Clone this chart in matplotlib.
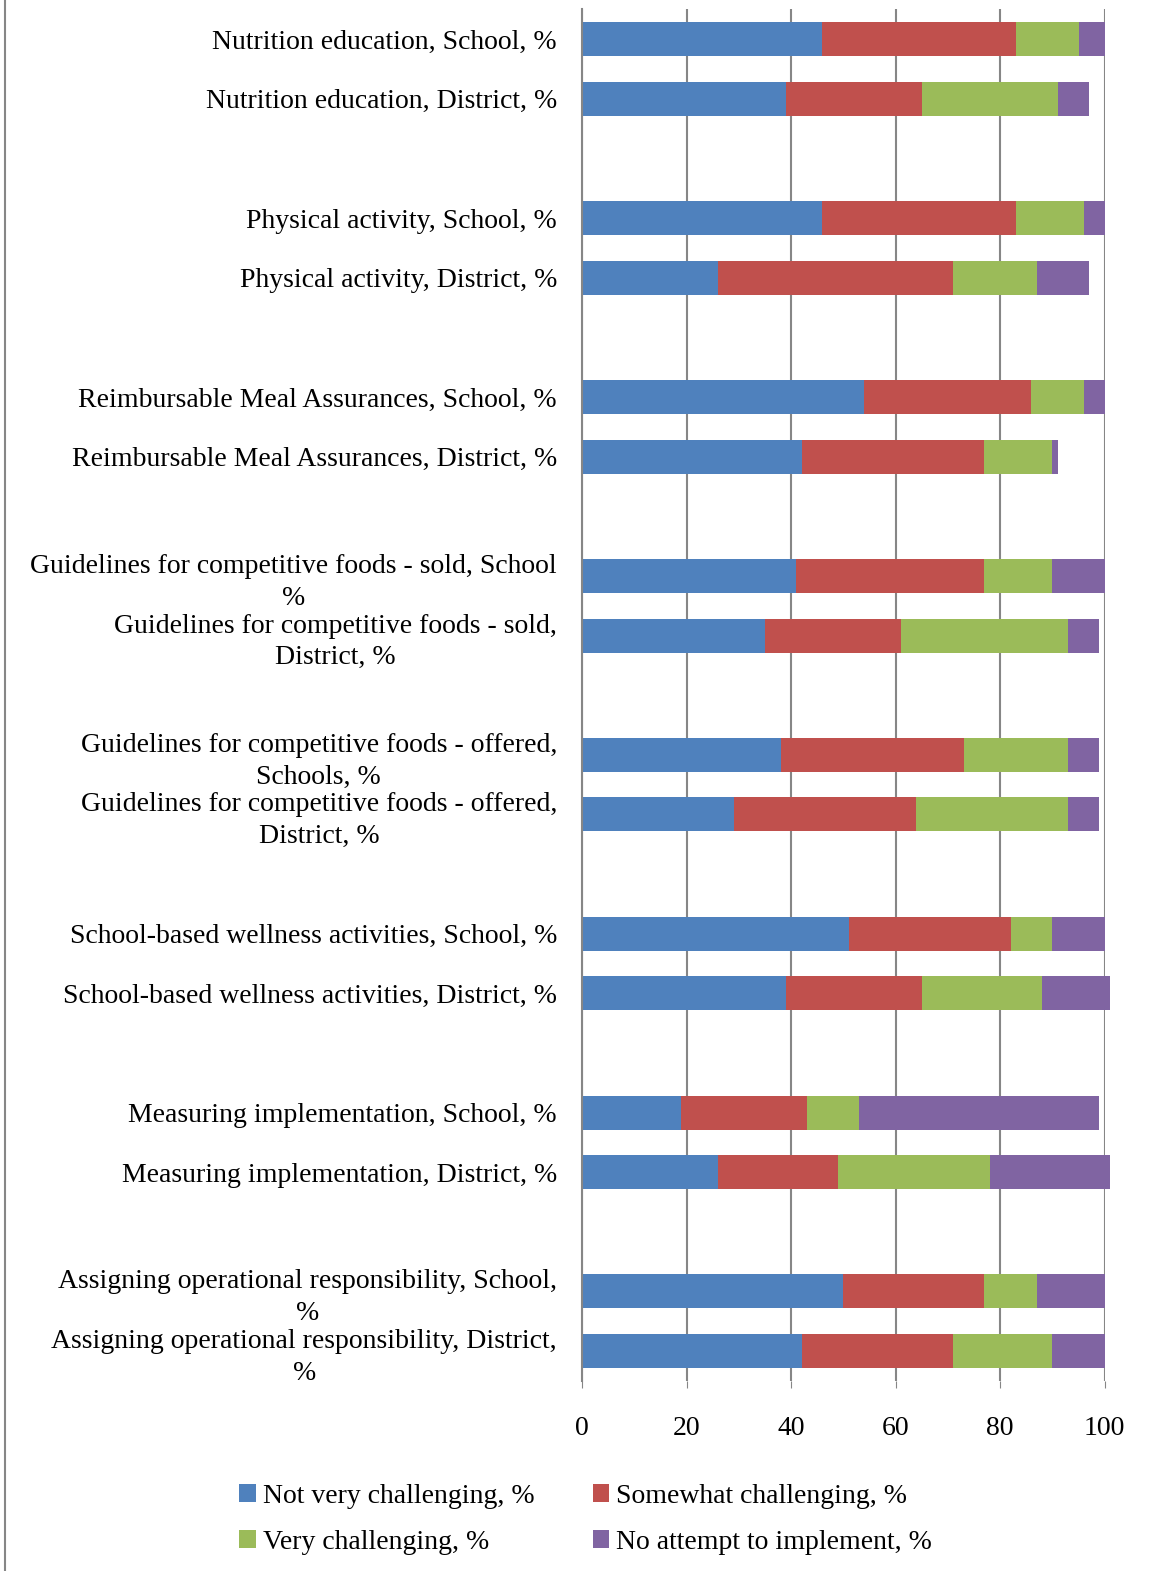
import numpy as np
import matplotlib
matplotlib.use("Agg")
import matplotlib.pyplot as plt
from matplotlib.patches import Patch

plt.rcParams['font.family'] = ['Liberation Serif', 'DejaVu Serif']

# category labels, top to bottom ('' = spacer row between topic pairs)
labels = [
    "Nutrition education, School, %",
    "Nutrition education, District, %",
    "",
    "Physical activity, School, %",
    "Physical activity, District, %",
    "",
    "Reimbursable Meal Assurances, School, %",
    "Reimbursable Meal Assurances, District, %",
    "",
    "Guidelines for competitive foods - sold, School\n%",
    "Guidelines for competitive foods - sold,\nDistrict, %",
    "",
    "Guidelines for competitive foods - offered,\nSchools, %",
    "Guidelines for competitive foods - offered,\nDistrict, %",
    "",
    "School-based wellness activities, School, %",
    "School-based wellness activities, District, %",
    "",
    "Measuring implementation, School, %",
    "Measuring implementation, District, %",
    "",
    "Assigning operational responsibility, School,\n%",
    "Assigning operational responsibility, District,\n%",
]

# percentages per category (spacer rows are 0)
not_very = [46, 39, 0, 46, 26, 0, 54, 42, 0, 41, 35, 0, 38, 29, 0, 51, 39, 0, 19, 26, 0, 50, 42]
somewhat = [37, 26, 0, 37, 45, 0, 32, 35, 0, 36, 26, 0, 35, 35, 0, 31, 26, 0, 24, 23, 0, 27, 29]
very = [12, 26, 0, 13, 16, 0, 10, 13, 0, 13, 32, 0, 20, 29, 0, 8, 23, 0, 10, 29, 0, 10, 19]
no_attempt = [5, 6, 0, 4, 10, 0, 4, 1, 0, 10, 6, 0, 6, 6, 0, 10, 13, 0, 46, 23, 0, 13, 10]

series = [
    ("Not very challenging, %", not_very, "#4F81BD"),
    ("Somewhat challenging, %", somewhat, "#C0504D"),
    ("Very challenging, %", very, "#9BBB59"),
    ("No attempt to implement, %", no_attempt, "#8064A2"),
]

fig = plt.figure(figsize=(11.55, 15.71), dpi=100)
ax = fig.add_axes([0.5039, 0.1210, 0.4525, 0.8730])

y = np.arange(len(labels))
left = np.zeros(len(labels))
for name, vals, col in series:
    vals = np.array(vals, dtype=float)
    # rounded totals can go a bit past 100, let those bars run over the edge
    ax.barh(y, vals, left=left, height=0.57, color=col, edgecolor='none',
            label=name, zorder=3, clip_on=False)
    left += vals

ax.set_ylim(len(labels) - 0.5, -0.5)
ax.set_xlim(0, 100)
ax.set_xticks(np.arange(0, 101, 20))
ax.set_yticks(y)
ax.set_yticklabels(labels, fontsize=20, multialignment='center', linespacing=1.35)
ax.tick_params(axis='y', length=0, pad=18)
ax.tick_params(axis='x', labelsize=20, length=5, color='#868686', pad=20)

ax.grid(axis='x', color='#868686', linewidth=1.5, zorder=0)
for s in ['top', 'right', 'bottom']:
    ax.spines[s].set_visible(False)
ax.spines['left'].set_color('#868686')
ax.spines['left'].set_linewidth(1.5)
ax.spines['left'].set_zorder(4)

# frame line along the left edge of the figure
fig.add_artist(plt.Line2D([0.004, 0.004], [0, 1], color='#868686', linewidth=1.5,
                          transform=fig.transFigure))

# legend filled column-wise, so order handles to read row by row
order = [0, 2, 1, 3]
handles = [Patch(facecolor=series[i][2], label=series[i][0]) for i in order]
fig.legend(handles=handles, ncol=2, loc='center', bbox_to_anchor=(0.507, 0.033),
           frameon=False, fontsize=20, handlelength=0.6, handleheight=0.6,
           handletextpad=0.25, columnspacing=2.1, labelspacing=0.75)

fig.savefig("out.png", dpi=100)
